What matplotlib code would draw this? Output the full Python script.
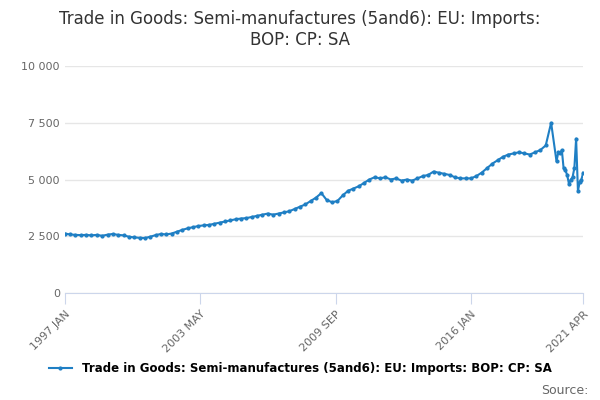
import matplotlib
matplotlib.use("Agg")
import matplotlib.pyplot as plt
import pandas as pd
from matplotlib.ticker import FuncFormatter

# quarterly estimates 1997Q1..2019Q4
quarterly = [
    2620, 2580, 2560, 2550,  2560, 2540, 2560, 2520,  2570, 2600, 2560, 2540,
    2480, 2450, 2430, 2420,  2480, 2550, 2600, 2580,  2620, 2700, 2780, 2850,
    2900, 2950, 2980, 3000,  3050, 3100, 3150, 3200,  3250, 3280, 3300, 3350,
    3400, 3450, 3500, 3450,  3500, 3550, 3600, 3700,  3800, 3900, 4050, 4200,
    4400, 4100, 4000, 4050,  4300, 4500, 4600, 4700,  4850, 5000, 5100, 5050,
    5100, 5000, 5050, 4950,  5000, 4950, 5050, 5150,  5200, 5350, 5300, 5250,
    5200, 5100, 5050, 5050,  5050, 5150, 5300, 5500,  5700, 5850, 6000, 6100,
    6150, 6200, 6150, 6100,  6200, 6300, 6500, 7500,
]
# monthly estimates 2020 JAN .. 2021 APR
monthly = [5800, 6200, 6150, 6300, 5500, 5400, 5200, 4800, 5000, 5100, 5500, 6800,
           4500, 4900, 5000, 5300]

dates = list(pd.date_range("1997-01-01", periods=len(quarterly), freq="QS")) + \
        list(pd.date_range("2020-01-01", periods=len(monthly), freq="MS"))
values = quarterly + monthly

title = "Trade in Goods: Semi-manufactures (5and6): EU: Imports:\nBOP: CP: SA"
label = "Trade in Goods: Semi-manufactures (5and6): EU: Imports: BOP: CP: SA"
tick_dates = ["1997-01-01", "2003-05-01", "2009-09-01", "2016-01-01", "2021-04-01"]
tick_labels = ["1997 JAN", "2003 MAY", "2009 SEP", "2016 JAN", "2021 APR"]

fig = plt.figure(figsize=(6, 4), dpi=100)
ax = fig.add_axes([0.108, 0.2675, 0.864, 0.5675])
color = "#1f7fc4"
ax.plot(dates, values, color=color, lw=1.5, marker="o", ms=2, label=label)

ax.set_ylim(0, 10000)
ax.set_yticks([0, 2500, 5000, 7500, 10000])
ax.yaxis.set_major_formatter(FuncFormatter(lambda v, p: f"{int(v):,}".replace(",", " ")))
ax.set_xlim(pd.Timestamp("1997-01-01"), pd.Timestamp("2021-04-01"))
ax.set_xticks([pd.Timestamp(d) for d in tick_dates])
ax.set_xticklabels(tick_labels, rotation=45, ha="right", rotation_mode="anchor")
ax.grid(axis="y", color="#e6e6e6", lw=1)
for s in ["top", "right", "left"]:
    ax.spines[s].set_visible(False)
ax.spines["bottom"].set_color("#ccd6eb")
ax.tick_params(axis="y", length=0, labelsize=8, colors="#666666")
ax.tick_params(axis="x", labelsize=8, colors="#666666", length=8, color="#ccd6eb")

fig.suptitle(title, fontsize=12, color="#333333", y=0.975)
fig.legend(loc="lower center", bbox_to_anchor=(0.5, 0.035), frameon=False,
           prop={"weight": "bold", "size": 8.5})
fig.text(0.98, 0.015, "Source:", ha="right", fontsize=9, color="#666666")
fig.savefig("out.png", dpi=100)
